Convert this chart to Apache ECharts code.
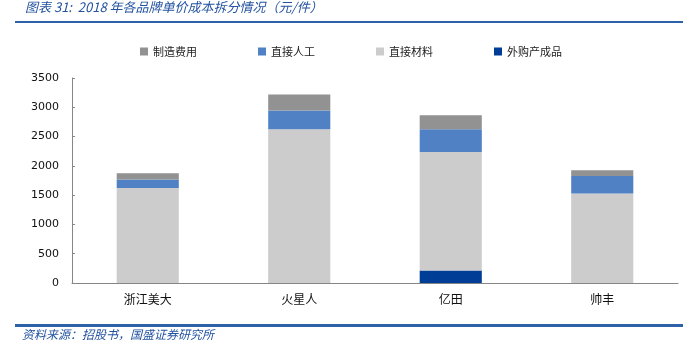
<!DOCTYPE html>
<html>
<head>
<meta charset="utf-8">
<script src="https://cdn.jsdelivr.net/npm/echarts@6/dist/echarts.min.js"></script>
<style>
  html, body { margin: 0; padding: 0; background: #fff; }
  #main { width: 683px; height: 354px; }
</style>
</head>
<body>
<div id="main"></div>
<script>
// 2018年各品牌单价成本拆分（元/件）
const brands = ['浙江美大', '火星人', '亿田', '帅丰'];
const outsourced = [0, 0, 215, 0];          // 外购产成品
const material = [1620, 2625, 2020, 1530];  // 直接材料
const labor = [145, 320, 390, 295];         // 直接人工
const overhead = [110, 275, 240, 100];      // 制造费用
const legendOrder = ['制造费用', '直接人工', '直接材料', '外购产成品'];

const cjk = '"Noto Sans CJK SC", sans-serif';
const blueText = '#2453a0';

const chart = echarts.init(document.getElementById('main'));

function bar(name, data, color) {
    return {
        name: name,
        type: 'bar',
        stack: 'cost',
        barWidth: '41%',
        itemStyle: { color: color },
        data: data
    };
}

chart.setOption({
    animation: false,
    title: {
        text: '图表 31:  2018 年各品牌单价成本拆分情况（元/件）',
        left: 20,
        top: -4,
        textStyle: {
            fontFamily: cjk,
            fontSize: 13,
            fontStyle: 'italic',
            fontWeight: 'normal',
            color: blueText
        }
    },
    graphic: [
        { type: 'rect', shape: { x: 15, y: 21, width: 668, height: 2 }, style: { fill: '#2e62a8' } },
        { type: 'rect', shape: { x: 15, y: 324, width: 668, height: 3 }, style: { fill: '#2e62a8' } },
        {
            type: 'text', left: 22, top: 328,
            style: {
                text: '资料来源：招股书，国盛证券研究所',
                font: 'italic 12px "Noto Sans CJK SC"',
                fill: blueText
            }
        }
    ],
    legend: {
        data: legendOrder,
        top: 41,
        left: 135,
        itemGap: 61,
        itemWidth: 8,
        itemHeight: 8,
        icon: 'rect',
        textStyle: { fontFamily: cjk, fontSize: 11, color: '#222' }
    },
    grid: { left: 72, right: 5, top: 78, bottom: 71 },
    xAxis: {
        type: 'category',
        data: brands,
        axisLine: { lineStyle: { color: '#868686' } },
        axisTick: { inside: true, length: 4, lineStyle: { color: '#868686' } },
        axisLabel: { fontFamily: cjk, fontSize: 12, color: '#111', margin: 10 }
    },
    yAxis: {
        type: 'value',
        min: 0,
        max: 3500,
        interval: 500,
        splitLine: { show: false },
        axisLine: { show: true, lineStyle: { color: '#868686' } },
        axisTick: { show: true, inside: true, length: 3, lineStyle: { color: '#868686' } },
        axisLabel: {
            fontFamily: 'DejaVu Sans', fontSize: 11, color: '#111', margin: 13,
            formatter: function (v) { return String(v); }
        }
    },
    series: [
        bar('外购产成品', outsourced, '#003d96'),
        bar('直接材料', material, '#cccccc'),
        bar('直接人工', labor, '#4f81c4'),
        bar('制造费用', overhead, '#929292')
    ]
});
</script>
</body>
</html>
